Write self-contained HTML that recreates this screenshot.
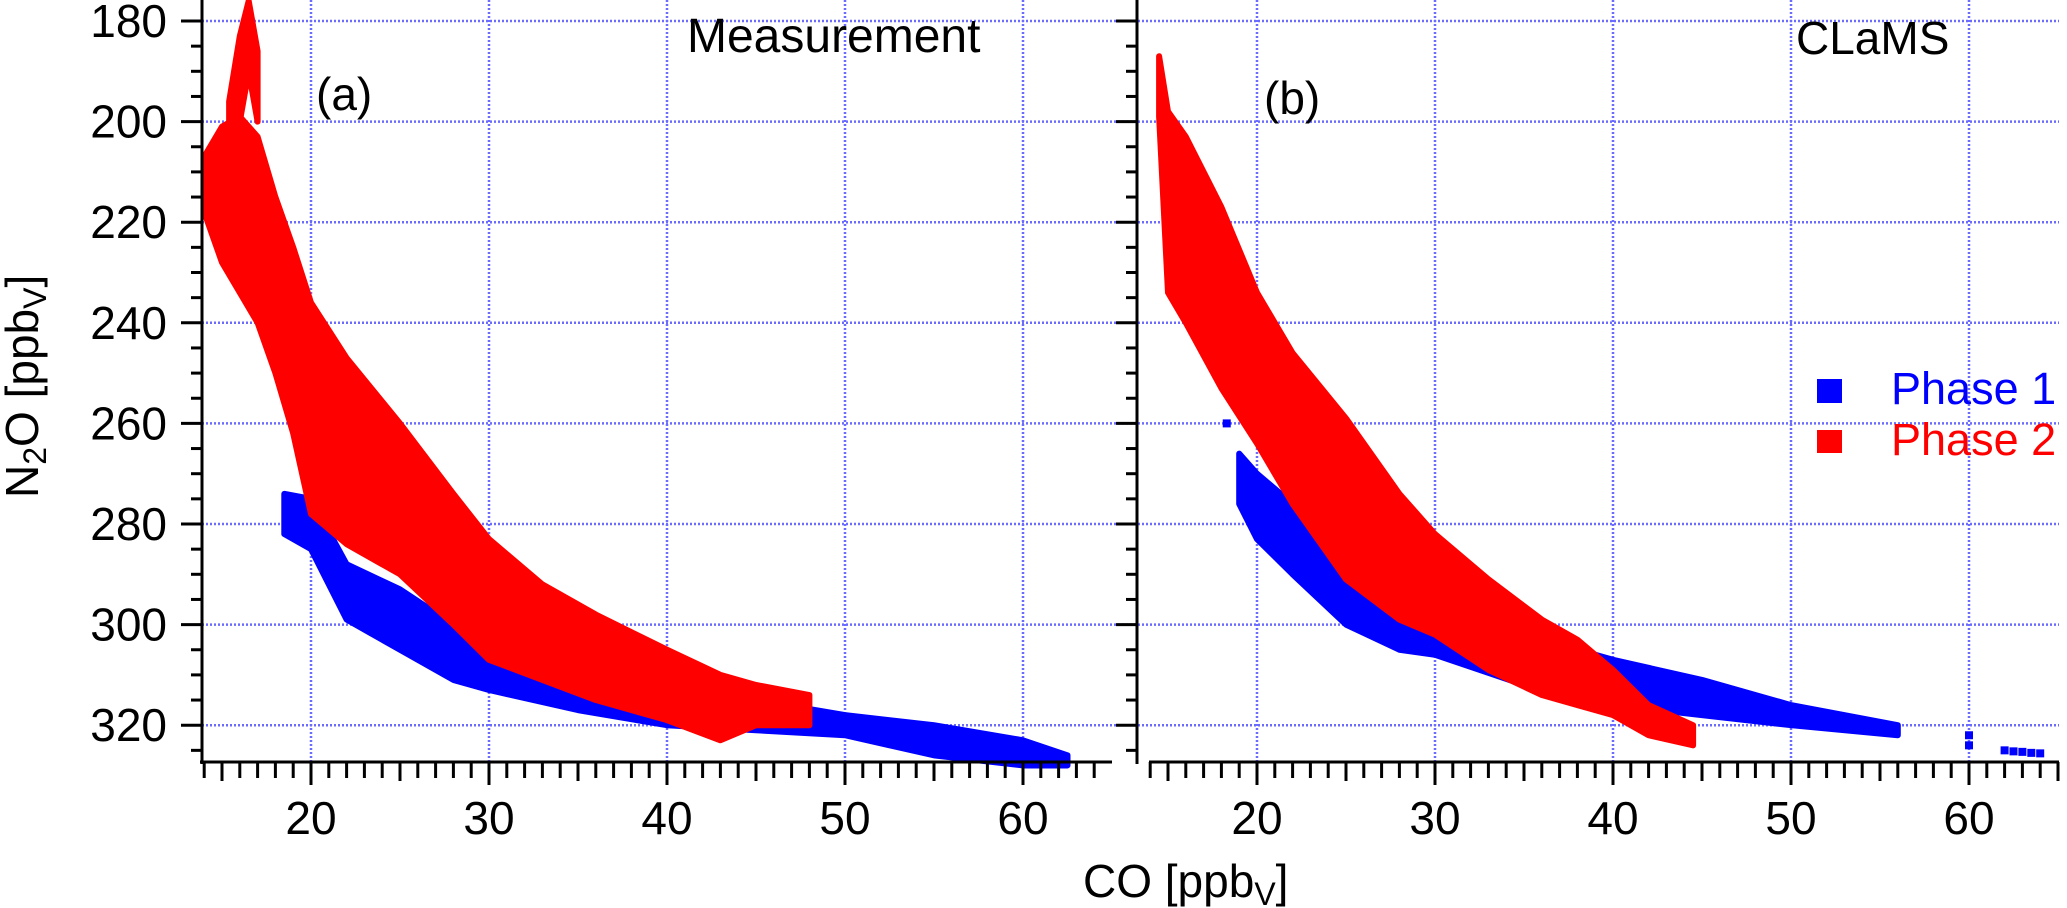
<!DOCTYPE html>
<html><head><meta charset="utf-8"><style>
html,body{margin:0;padding:0;background:#fff;}
svg{display:block;font-family:"Liberation Sans",Arial,sans-serif;}
</style></head><body>
<svg id="chart" width="2067" height="908" viewBox="0 0 2067 908" xmlns="http://www.w3.org/2000/svg">
<g id="grid"></g>
<g id="marks"></g>
<g id="axes"></g>
<text x="687" y="52" font-size="48">Measurement</text>
<text x="316" y="110" font-size="46">(a)</text>
<text x="1796" y="54" font-size="46">CLaMS</text>
<text x="1264" y="114" font-size="46">(b)</text>
<g>
<rect x="1817" y="379" width="25" height="24" fill="#0000ff"/>
<text x="1891" y="404" font-size="45" fill="#0000ff">Phase 1</text>
<rect x="1817" y="430" width="25" height="23" fill="#ff0000"/>
<text x="1891" y="455" font-size="45" fill="#ff0000">Phase 2</text>
</g>
<text x="1083" y="897" font-size="46">CO [ppb<tspan font-size="32" dy="8">V</tspan><tspan dy="-8">]</tspan></text>
<text transform="translate(38,498) rotate(-90)" font-size="46">N<tspan font-size="32" dy="8">2</tspan><tspan dy="-8">O [ppb</tspan><tspan font-size="32" dy="8">V</tspan><tspan dy="-8">]</tspan></text>
</svg>
<script>
// Panel (a) Measurement, Phase 2 (red) band: CO values, N2O upper and lower edges
const aRedCO  = [14.0,15.0,16.0,17.0,18.0,19.0,20.0,22.0,25.0,28.0,30.0,33.0,36.0,40.0,43.0,45.0,48.0];
const aRedTop = [207,201,199,203,215,225,236,247,260,274,283,292,298,305,310,312,314];
const aRedBot = [218,228,234,240,250,262,278,284,290,300,307,311,315,319,323,320,320];
// Panel (a) Phase 2 thin spike near top
const aSpikeCO  = [15.4,16.0,16.5,17.0];
const aSpikeTop = [196,183,176,186];
const aSpikeBot = [202,200,190,200];
// Panel (a) Phase 1 (blue)
const aBlueCO  = [18.5,20,22,25,28,30,35,40,45,50,55,60,62.5];
const aBlueTop = [274,275,288,293,300,304,310,313,315,318,320,323,326];
const aBlueBot = [282,285,299,305,311,313,317,320,321,322,326,328,328];
// Panel (b) CLaMS, Phase 2 (red)
const bRedCO  = [14.5,15.0,16.0,18.0,20.0,22.0,25.0,28.0,30.0,33.0,36.0,38.0,40.0,42.0,44.5];
const bRedTop = [187,198,203,217,234,246,259,274,282,291,299,303,309,316,320];
const bRedBot = [199,234,240,253,264,276,291,299,302,309,314,316,318,322,324];
// Panel (b) Phase 1 (blue)
const bBlueCO  = [19.0,20.0,22.0,25.0,28.0,30.0,35.0,40.0,45.0,50.0,56.0];
const bBlueTop = [266,270,276,283,292,295,302,307,311,316,320];
const bBlueBot = [276,283,290,300,305,306,312,316,318,320,322];
// Panel (b) isolated Phase 1 points
const bBluePtCO  = [18.3,60.0,60.0,62.0,62.5,63.0,63.5,64.0];
const bBluePtN2O = [260,322,324,325,325.2,325.3,325.5,325.6];
// Axis ticks
const yTicks = [180,200,220,240,260,280,300,320];
const xTicks = [20,30,40,50,60];

const NS = "http://www.w3.org/2000/svg";
const yScale = v => 21 + (v - 180) * 5.03;
const xA = v => 311 + (v - 20) * 17.8;
const xB = v => 1257 + (v - 20) * 17.8;
function mk(tag, attrs, parent){const e=document.createElementNS(NS,tag);for(const k in attrs)e.setAttribute(k,attrs[k]);parent.appendChild(e);return e;}
const grid=document.getElementById('grid'), marks=document.getElementById('marks'), axes=document.getElementById('axes');
const gc="#6b6bff";
yTicks.forEach(v=>{
  const l=mk('line',{x1:202,x2:2059,y1:yScale(v),y2:yScale(v),stroke:gc,'stroke-width':2.5,'stroke-dasharray':'2 2'},grid);
  
  
});
[xA,xB].forEach((fx,p)=>xTicks.forEach(v=>{
  const l=mk('line',{x1:fx(v),x2:fx(v),y1:0,y2:762,stroke:gc,'stroke-width':2.5,'stroke-dasharray':'2 2'},grid);
  
  
}));
function band(co,top,bot,fx,color,name){
  const pts=[];
  co.forEach((c,i)=>pts.push(fx(c)+','+yScale(top[i])));
  for(let i=co.length-1;i>=0;i--)pts.push(fx(co[i])+','+yScale(bot[i]));
  const p=mk('polygon',{points:pts.join(' '),fill:color,stroke:color,'stroke-width':6,'stroke-linejoin':'round'},marks);
  
  
}
band(aBlueCO,aBlueTop,aBlueBot,xA,'#0000ff','panel-a-phase1-cloud');
band(aRedCO,aRedTop,aRedBot,xA,'#ff0000','panel-a-phase2-cloud');
band(aSpikeCO,aSpikeTop,aSpikeBot,xA,'#ff0000','panel-a-phase2-spike');
band(bBlueCO,bBlueTop,bBlueBot,xB,'#0000ff','panel-b-phase1-cloud');
band(bRedCO,bRedTop,bRedBot,xB,'#ff0000','panel-b-phase2-cloud');
bBluePtCO.forEach((c,i)=>{
  const r=mk('rect',{x:xB(c)-4,y:yScale(bBluePtN2O[i])-4,width:8,height:8,fill:'#0000ff'},marks);
  
  
});
[[202,0,202,764],[1137,0,1137,764],[200,762,1112,762],[1149,762,2059,762]].forEach((a,i)=>{
  const l=mk('line',{x1:a[0],y1:a[1],x2:a[2],y2:a[3],stroke:'#000','stroke-width':3},axes);
  
  
});
[202,1137].forEach(ax=>{
  for(let v=180;v<=325;v+=5){
    const major=v%20===0;
    const t=mk('line',{x1:ax-(major?21:11),x2:ax,y1:yScale(v),y2:yScale(v),stroke:'#000','stroke-width':3},axes);
    
    
  }
});
yTicks.forEach(v=>{
  const t=mk('text',{x:167,y:yScale(v)+16,'font-size':46,'text-anchor':'end'},axes);
  t.textContent=v;
  
  
});
[[xA,14,64],[xB,14,65]].forEach(([fx,a,b],p)=>{
  for(let v=a;v<=b;v++){
    const len=v%10===0?23:(v%5===0?19:16);
    const t=mk('line',{x1:fx(v),x2:fx(v),y1:762,y2:762+len,stroke:'#000','stroke-width':3},axes);
    
    
  }
  xTicks.forEach(v=>{
    const t=mk('text',{x:fx(v),y:834,'font-size':46,'text-anchor':'middle'},axes);
    t.textContent=v;
    
    
  });
});
</script>
</body></html>
